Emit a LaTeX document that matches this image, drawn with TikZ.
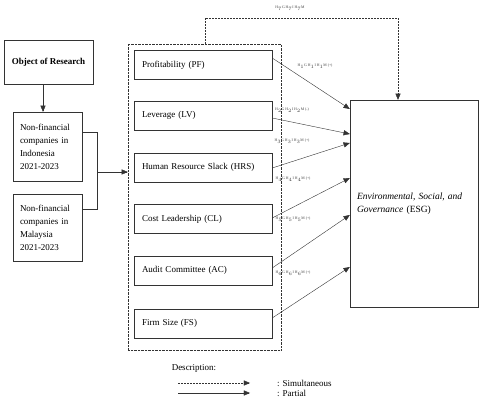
\documentclass[tikz,border=0pt]{standalone}
\usepackage{fontspec}
\setmainfont{Liberation Serif}
\usetikzlibrary{calc}
\usetikzlibrary{arrows}

\tikzset{
 box/.style={draw=black!80, thin, inner sep=0, minimum width=#1},
 varbox/.style={box=138, minimum height=29, text width=122, align=left, font=\fontsize{9}{11}\selectfont},
 firmbox/.style={box=69, text width=55, align=left, font=\fontsize{9}{13}\selectfont},
 hyp/.style={font=\fontsize{3.8}{4}\selectfont, text=black!75, inner sep=0},
 simul/.style={black!80, thin, dash pattern=on 2pt off 1pt, -triangle 45},
 part/.style={black!80, thin, -triangle 45},
}

\begin{document}
\begin{tikzpicture} [x=1pt,y=1pt]
\useasboundingbox (0,0) rectangle (480,402);
% object of research
\node[box=89, minimum height=44, font=\bfseries\fontsize{9}{11}\selectfont] (obj) at (48.5,340) {Object of Research};
\node[firmbox, minimum height=69] (ina) at (47.5,255.5) {Non-financial\\companies in\\Indonesia\\2021-2023};
\node[firmbox, minimum height=67] (mal) at (47.5,174.5) {Non-financial\\companies in\\Malaysia\\2021-2023};
\draw[part] (obj.south -| 43,0) -- (ina.north -| 43,0);
% independent variables
\node[draw=black!80, densely dotted, minimum width=153, minimum height=306, inner sep=0] (ind) at (204.5,205) {};
\node[varbox] (pf) at (203,337) {Profitability (PF)};
\node[varbox] (lv) at (203,286.5) {Leverage (LV)};
\node[varbox] (hrs) at (203,234.5) {Human Resource Slack (HRS)};
\node[varbox] (cl) at (203,183) {Cost Leadership (CL)};
\node[varbox] (ac) at (203,131.5) {Audit Committee (AC)};
\node[varbox] (fs) at (203,78.5) {Firm Size (FS)};
\coordinate (brk) at (97,230);
\draw[black!80, thin] (ina.east |- 0,270) -| (97,193) -- (mal.east |- 0,193);
\draw[part] (brk) -- (brk -| ind.west);
% dependent variable
\node[box=128, minimum height=207, text width=114, align=left, font=\fontsize{9.5}{13.5}\selectfont] (esg) at (414,198.5) {\itshape Environmental, Social, and Governance \upshape(ESG)};
% partial effects
\draw[part] ([yshift=7]pf.east) -- ([yshift=94.5]esg.west);
\draw[part] ([yshift=-2.5]lv.east) -- ([yshift=69.5]esg.west);
\draw[part] ([yshift=-0.5]hrs.east) -- ([yshift=60.5]esg.west);
\draw[part] ([yshift=1]cl.east) -- ([yshift=25.5]esg.west);
\draw[part] ([yshift=2.5]ac.east) -- ([yshift=-11.5]esg.west);
\draw[part] ([yshift=5.5]fs.east) -- ([yshift=-63.5]esg.west);
\node[hyp] (h1) at (315,336) {H$_1$G H$_1$I H$_1$M (+)};
\node[hyp] (h2) at (292,292) {H$_2$G H$_2$I H$_2$M (-)};
\node[hyp] (h3) at (292,261) {H$_3$G H$_3$I H$_3$M (+)};
\node[hyp] (h4) at (293,223) {H$_4$G H$_4$I H$_4$M (+)};
\node[hyp] (h5) at (293,183) {H$_5$G H$_5$I H$_5$M (+)};
\node[hyp] (h6) at (293,129) {H$_6$G H$_6$I H$_6$M (+)};
% simultaneous effect
\coordinate (top) at (205,384);
\draw[simul] (ind.north -| top) -- (top) -| (esg.north -| 398,0);
\node[hyp] (h7) at (290,394) {H$_7$G H$_7$I H$_7$M};
% description
\node[font=\fontsize{9}{11}\selectfont, inner sep=0] (desc) at (194,34) {Description:};
\coordinate (s1) at (178,19);
\coordinate (s2) at (250,19);
\coordinate (p1) at (178,9);
\coordinate (p2) at (250,9);
\draw[simul] (s1) -- (s2);
\draw[part] (p1) -- (p2);
\node[anchor=west, font=\fontsize{9}{11}\selectfont, inner sep=0] (simtxt) at (277,19) {: Simultaneous};
\node[anchor=west, font=\fontsize{9}{11}\selectfont, inner sep=0] (partxt) at (277,9) {: Partial};
\end{tikzpicture}
\end{document}
